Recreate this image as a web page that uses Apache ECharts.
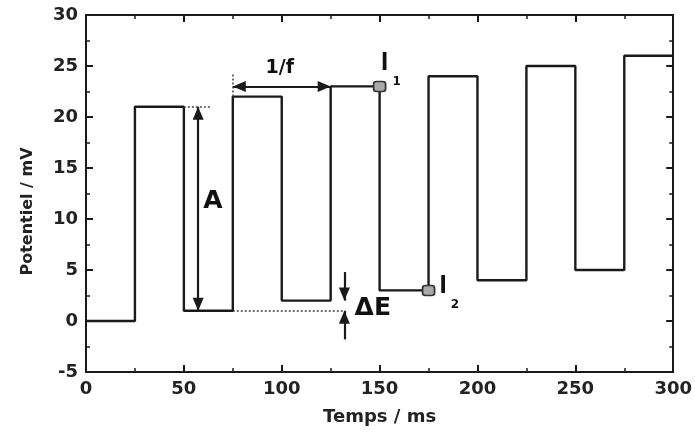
<!DOCTYPE html>
<html>
<head>
<meta charset="utf-8">
<script src="https://cdn.jsdelivr.net/npm/echarts@6/dist/echarts.min.js"></script>
<style>html,body{margin:0;padding:0;background:#fff;}#c{width:695px;height:437px;}</style>
</head>
<body>
<div id="c"></div>
<script>
// ---- data ----
const timeSteps = [0, 25, 50, 75, 100, 125, 150, 175, 200, 225, 250, 275, 300];
const potential = [0, 21, 1, 22, 2, 23, 3, 24, 4, 25, 5, 26, 26];
const sampleX = [150, 175];
const sampleY = [23, 3];
const xTicks = [0, 50, 100, 150, 200, 250, 300];
const yTicks = [-5, 0, 5, 10, 15, 20, 25, 30];
// annotation arrows: [x1, y1, x2, y2, startSymbol, endSymbol]
const arrows = [
  [57.3, 21, 57.3, 1, 'triangle', 'triangle'],
  [75, 23, 125, 23, 'triangle', 'triangle'],
  [132, 4.8, 132, 2, 'none', 'triangle'],
  [132, -1.8, 132, 1, 'none', 'triangle']
];
// dotted guide lines
const guides = [
  [50, 21, 64, 21],
  [75, 1, 132, 1],
  [75, 22, 75, 24.3]
];
// text annotations: [x, y, text, fontSize, font]
const notes = [
  [64.8, 11.7, 'A', 25, 'DejaVu Sans'],
  [99, 24.8, '1/f', 19, 'DejaVu Sans'],
  [152.6, 25.3, 'I', 26, 'Liberation Sans'],
  [158.7, 23.4, '1', 12, 'DejaVu Sans'],
  [182.5, 3.4, 'I', 26, 'Liberation Sans'],
  [188.5, 1.6, '2', 12, 'DejaVu Sans'],
  [146.5, 1.2, 'ΔE', 25, 'DejaVu Sans']
];

const FONT = 'DejaVu Sans';
const INK = '#1a1a1a';
const ARROW = [11, 13];

const chart = echarts.init(document.getElementById('c'), null, {renderer: 'canvas'});

function axisCommon(showLabel) {
  return {
    axisLine: {show: true, onZero: false, lineStyle: {color: INK, width: 2}},
    axisTick: {show: true, inside: true, length: 7, lineStyle: {color: INK, width: 2}},
    minorTick: {show: true, splitNumber: 2, length: 4, lineStyle: {color: INK, width: 1.5}},
    splitLine: {show: false},
    axisLabel: {show: showLabel, color: '#222', fontFamily: FONT, fontWeight: 'bold', fontSize: 18, margin: 8}
  };
}

function endPoint(x, y, sym) {
  return {coord: [x, y], symbol: sym, symbolSize: ARROW, symbolOffset: [0, ARROW[1] / 2]};
}

const option = {
  animation: false,
  backgroundColor: '#fff',
  grid: {left: 86, right: 21, top: 15, bottom: 65, containLabel: false},
  xAxis: [
    Object.assign({
      type: 'value', min: xTicks[0], max: xTicks[xTicks.length - 1], interval: 50,
      name: 'Temps / ms', nameLocation: 'middle', nameGap: 36,
      nameTextStyle: {color: '#222', fontFamily: FONT, fontWeight: 'bold', fontSize: 18}
    }, axisCommon(true)),
    Object.assign({
      type: 'value', position: 'top', min: xTicks[0], max: xTicks[xTicks.length - 1], interval: 50
    }, axisCommon(false))
  ],
  yAxis: [
    Object.assign({
      type: 'value', min: yTicks[0], max: yTicks[yTicks.length - 1], interval: 5,
      name: 'Potentiel / mV', nameLocation: 'middle', nameGap: 50,
      nameTextStyle: {color: '#222', fontFamily: FONT, fontWeight: 'bold', fontSize: 16, padding: [0, 36, 0, 0]}
    }, axisCommon(true)),
    Object.assign({
      type: 'value', position: 'right', min: yTicks[0], max: yTicks[yTicks.length - 1], interval: 5
    }, axisCommon(false))
  ],
  series: [
    {
      type: 'line', step: 'end', symbol: 'none',
      data: timeSteps.map((t, i) => [t, potential[i]]),
      lineStyle: {color: INK, width: 2.4},
      z: 3
    },
    {
      type: 'line', data: [], symbol: 'none', silent: true,
      markLine: {
        silent: true, animation: false,
        label: {show: false},
        emphasis: {disabled: true},
        data: arrows.map(a => [
          Object.assign(endPoint(a[0], a[1], a[4]), {lineStyle: {color: INK, width: 2.2, type: 'solid'}}),
          endPoint(a[2], a[3], a[5])
        ]).concat(guides.map(g => [
          {coord: [g[0], g[1]], symbol: 'none', lineStyle: {color: '#444', width: 1.5, type: [2, 2]}},
          {coord: [g[2], g[3]], symbol: 'none'}
        ]))
      }
    },
    {
      type: 'scatter',
      data: sampleX.map((x, i) => [x, sampleY[i]]),
      symbol: 'roundRect', symbolSize: [12, 10],
      itemStyle: {color: '#aaaaaa', borderColor: '#333', borderWidth: 1.6, opacity: 1},
      z: 5
    },
    {
      type: 'scatter', silent: true,
      data: notes.map(n => ({value: [n[0], n[1]], name: n[2],
        label: {fontSize: n[3], fontFamily: n[4]}})),
      symbolSize: 1, itemStyle: {color: 'rgba(0,0,0,0)', opacity: 1},
      label: {show: true, position: 'inside', formatter: '{b}', color: '#111', opacity: 1,
        textBorderWidth: 0, fontWeight: 'bold'},
      z: 6
    }
  ]
};
chart.setOption(option);
</script>
</body>
</html>
